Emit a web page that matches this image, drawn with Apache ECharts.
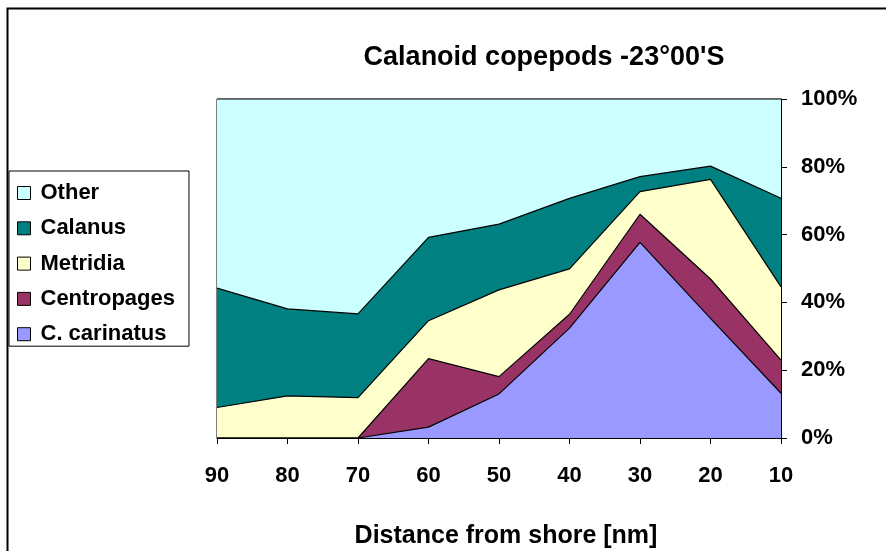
<!DOCTYPE html>
<html>
<head>
<meta charset="utf-8">
<script src="https://cdn.jsdelivr.net/npm/echarts@6/dist/echarts.min.js"></script>
<style>
  html, body { margin: 0; padding: 0; background: #fff; }
  #chart { width: 886px; height: 551px; }
</style>
</head>
<body>
<div id="chart"></div>
<script>
// distance from shore (nm)
const distances = ['90', '80', '70', '60', '50', '40', '30', '20', '10']

// percentage shares per group
const carinatus   = [0, 0, 0, 3.2, 13.0, 32.4, 57.7, 35.3, 13.2]
const centropages = [0, 0, 0, 20.2, 5.1, 4.1, 8.3, 11.6, 9.8]
const metridia    = [9.0, 12.4, 11.9, 11.2, 25.6, 13.4, 6.7, 29.4, 21.6]
const calanus     = [35.2, 25.7, 24.7, 24.6, 19.4, 20.8, 4.4, 3.9, 26.1]
const other       = [55.8, 61.9, 63.4, 40.8, 36.9, 29.3, 22.9, 19.8, 29.3]

const legendOrder = ['Other', 'Calanus', 'Metridia', 'Centropages', 'C. carinatus']

const font = "'Liberation Sans', Arial, sans-serif"

const chart = echarts.init(document.getElementById('chart'))

// one stacked area layer
const layer = (name, data, color) => ({
    name: name,
    type: 'line',
    stack: 'total',
    data: data,
    symbol: 'none',
    lineStyle: { color: '#000', width: 1.2 },
    itemStyle: { color: color, borderColor: '#000', borderWidth: 1 },
    areaStyle: { color: color, opacity: 1 },
    emphasis: { disabled: true }
})

const option = {
    animation: false,
    title: [
        {
            text: "Calanoid copepods -23\u00b000'S",
            left: 539,
            top: 39,
            textAlign: 'center',
            textStyle: { fontFamily: font, fontSize: 27, fontWeight: 'bold', color: '#000' }
        },
        {
            text: 'Distance from shore [nm]',
            left: 501,
            top: 519,
            textAlign: 'center',
            textStyle: { fontFamily: font, fontSize: 25, fontWeight: 'bold', color: '#000' }
        }
    ],
    graphic: [
        {
            type: 'rect',
            shape: { x: 7.5, y: 8.5, width: 1000, height: 1000 },
            style: { fill: 'none', stroke: '#000', lineWidth: 2 },
            silent: true
        }
    ],
    legend: {
        data: legendOrder,
        orient: 'vertical',
        left: 9,
        top: 171,
        padding: [11, 14, 1, 8],
        borderColor: '#000',
        borderWidth: 1,
        backgroundColor: '#fff',
        icon: 'rect',
        itemWidth: 13,
        itemHeight: 13,
        itemGap: 13.3,
        itemStyle: { borderColor: '#000', borderWidth: 1 },
        textStyle: {
            fontFamily: font,
            fontSize: 22,
            fontWeight: 'bold',
            color: '#000',
            lineHeight: 22,
            padding: [0, 0, 0, 5]
        }
    },
    grid: {
        left: 217,
        right: 105,
        top: 99,
        bottom: 113,
        show: true,
        borderColor: '#000',
        borderWidth: 1,
        backgroundColor: 'transparent'
    },
    xAxis: {
        type: 'category',
        data: distances,
        boundaryGap: false,
        axisLine: { lineStyle: { color: '#000', width: 1 } },
        axisTick: { length: 6, lineStyle: { color: '#000' } },
        axisLabel: { margin: 27, fontFamily: font, fontSize: 22, fontWeight: 'bold', color: '#000' },
        splitLine: { show: false }
    },
    yAxis: {
        type: 'value',
        position: 'right',
        min: 0,
        max: 100,
        interval: 20,
        axisLine: { show: true, lineStyle: { color: '#000', width: 1 } },
        axisTick: { show: true, length: 6, lineStyle: { color: '#000' } },
        axisLabel: {
            formatter: '{value}%',
            margin: 20,
            padding: [5, 0, 0, 0],
            fontFamily: font,
            fontSize: 22,
            fontWeight: 'bold',
            color: '#000'
        },
        splitLine: { show: false }
    },
    series: [
        layer('C. carinatus', carinatus, '#9999ff'),
        layer('Centropages', centropages, '#993366'),
        layer('Metridia', metridia, '#ffffcc'),
        layer('Calanus', calanus, '#008080'),
        layer('Other', other, '#ccffff')
    ]
}

chart.setOption(option)
</script>
</body>
</html>
